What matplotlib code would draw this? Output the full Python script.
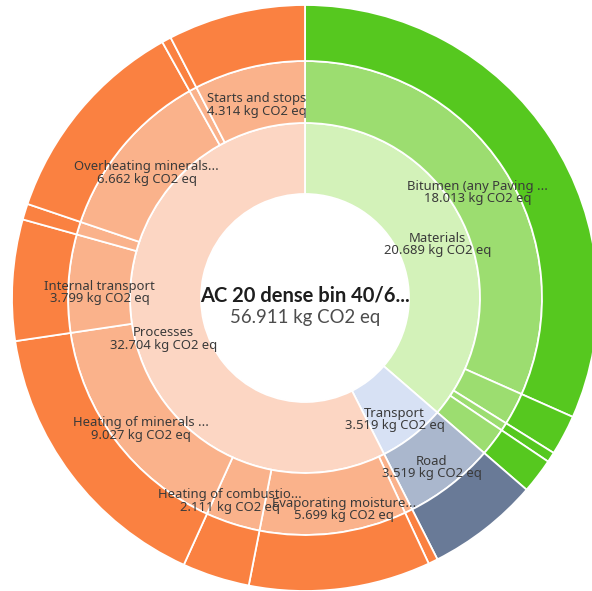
import matplotlib
matplotlib.use("Agg")
import matplotlib.pyplot as plt
import numpy as np

plt.rcParams['font.family'] = ['Noto Sans', 'DejaVu Sans']

title = "AC 20 dense bin 40/6..."
total = 56.911
unit = "kg CO2 eq"

# inner ring: stages
stage_names = ["Materials", "Transport", "Processes"]
stage_values = [20.689, 3.519, 32.704]

# middle ring: items inside each stage ("" = too thin to be labelled)
item_names = ["Bitumen (any Paving ...", "", "", "",
              "Road",
              "", "Evaporating moisture...", "Heating of combustio...",
              "Heating of minerals ...", "Internal transport", "",
              "Overheating minerals...", "", "Starts and stops"]
item_values = [18.013, 1.262, 0.318, 1.096,
               3.519,
               0.300, 5.699, 2.111,
               9.027, 3.799, 0.500,
               6.662, 0.292, 4.314]
item_stage = [0, 0, 0, 0, 1, 2, 2, 2, 2, 2, 2, 2, 2, 2]

# colours per stage: inner, middle, outer
inner_colors = ["#d3f2b9", "#d7e1f4", "#fcd6c3"]
middle_colors = ["#9cdd70", "#aab7cd", "#fab28b"]
outer_colors = ["#56c81f", "#697a97", "#fa8141"]

cx, cy = 305, 293
r_hole, r_in, r_mid, r_out = 104, 175, 237, 293

# small nudges (px) for labels that crowd each other
nudge = {"Evaporating moisture...": (14, 0), "Heating of combustio...": (-12, 0)}

fig = plt.figure(figsize=(5.92, 5.91), dpi=100)
ax = fig.add_axes([0, 0, 1, 1])

edge = dict(edgecolor="white", linewidth=1.3)

w_in, _ = ax.pie(stage_values, radius=r_in, center=(cx, cy), startangle=90,
                 counterclock=False, colors=inner_colors,
                 wedgeprops=dict(width=r_in - r_hole, **edge))
w_mid, _ = ax.pie(item_values, radius=r_mid, center=(cx, cy), startangle=90,
                  counterclock=False,
                  colors=[middle_colors[s] for s in item_stage],
                  wedgeprops=dict(width=r_mid - r_in, **edge))
w_out, _ = ax.pie(item_values, radius=r_out, center=(cx, cy), startangle=90,
                  counterclock=False,
                  colors=[outer_colors[s] for s in item_stage],
                  wedgeprops=dict(width=r_out - r_mid, **edge))


def label(wedge, r, name, value):
    ang = np.deg2rad((wedge.theta1 + wedge.theta2) / 2)
    dx, dy = nudge.get(name, (0, 0))
    x = cx + r * np.cos(ang) + dx
    y = cy + r * np.sin(ang) + dy - 7
    ax.text(x, y, f"{name}\n{value:.3f} {unit}", ha="center", va="center",
            fontsize=9.4, color="#3a3a3a", linespacing=0.95)


for w, n, v in zip(w_in, stage_names, stage_values):
    label(w, (r_hole + r_in) / 2 + 6, n, v)
for w, n, v in zip(w_mid, item_names, item_values):
    if n:
        label(w, (r_in + r_mid) / 2, n, v)

ax.text(cx, cy + 2, title, ha="center", va="center", fontsize=14.5,
        fontweight="bold", color="#1e1e1e", family=["Lato", "DejaVu Sans"])
ax.text(cx, cy - 20, f"{total:.3f} {unit}", ha="center", va="center",
        fontsize=13.4, color="#4d4d4d", family=["Lato", "DejaVu Sans"])

ax.set_xlim(0, 592)
ax.set_ylim(0, 591)
ax.set_aspect("equal")
ax.axis("off")

fig.savefig("out.png", dpi=100, facecolor="white")
